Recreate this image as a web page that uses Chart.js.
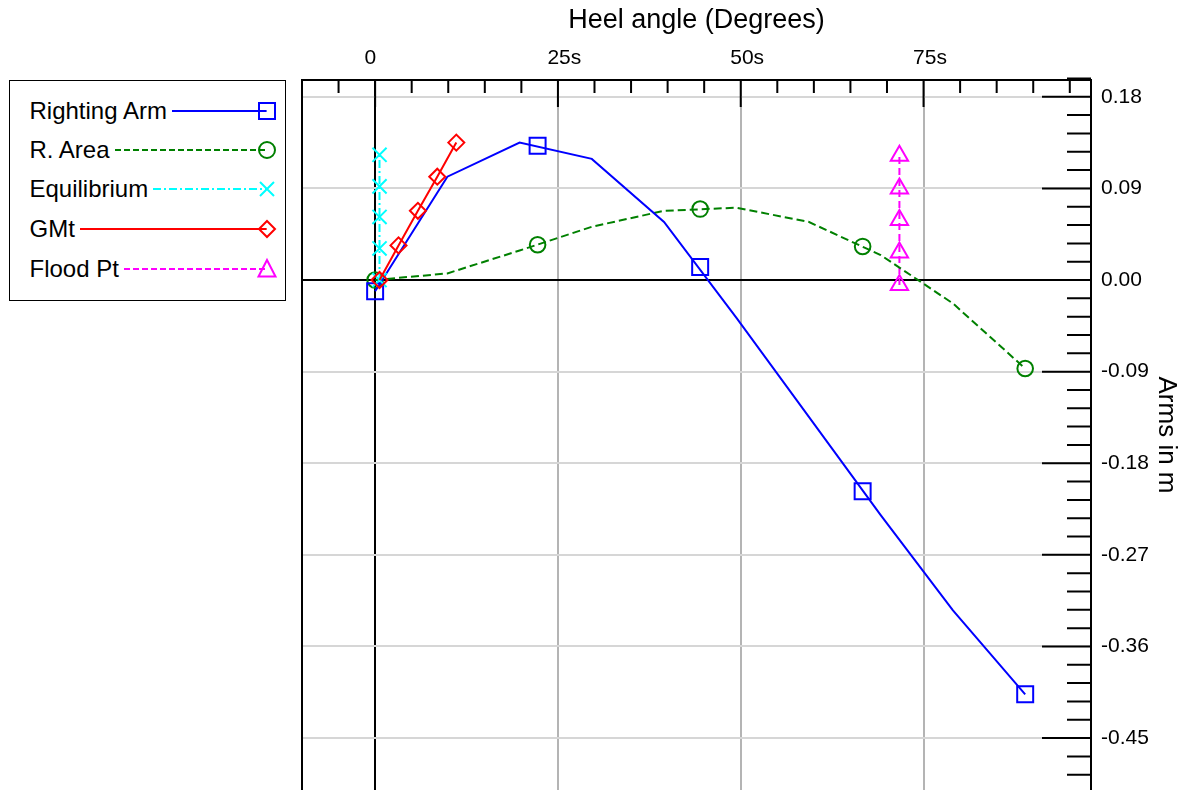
<!DOCTYPE html>
<html><head><meta charset="utf-8">
<script src="https://cdn.jsdelivr.net/npm/chart.js@4.4.1/dist/chart.umd.min.js"></script>
<style>
html,body{margin:0;padding:0;background:#fff;overflow:hidden;}
#wrap{position:relative;width:1189px;height:790px;}
#chart{position:absolute;left:0;top:0;}
#legend{position:absolute;left:9px;top:80px;width:275px;height:219px;border:1.5px solid #000;background:#fff;}
.row{position:absolute;left:19.5px;width:247px;height:26px;display:flex;align-items:center;font:24px "Liberation Sans",Arial,sans-serif;color:#000;}
.row span{white-space:nowrap;}
.row svg.ln{flex:1;height:26px;}
.row svg.mk{width:20px;height:26px;margin-left:-10px;flex:none;overflow:visible;}
</style></head>
<body>
<div id="wrap">
<canvas id="chart" width="1189" height="790"></canvas>
<div id="legend">
 <div class="row" style="top:17px"><span>Righting Arm</span><svg class="ln"><line x1="5" x2="100%" y1="13" y2="13" stroke="#0000ff" stroke-width="2"/></svg><svg class="mk"><rect x="2" y="5" width="16" height="16" fill="none" stroke="#0000ff" stroke-width="2"/></svg></div>
 <div class="row" style="top:55.5px"><span>R. Area</span><svg class="ln"><line x1="5" x2="100%" y1="13" y2="13" stroke="#008000" stroke-width="2" stroke-dasharray="6,3"/></svg><svg class="mk"><circle cx="10" cy="13" r="8" fill="none" stroke="#008000" stroke-width="2"/></svg></div>
 <div class="row" style="top:95px"><span>Equilibrium</span><svg class="ln"><line x1="5" x2="100%" y1="13" y2="13" stroke="#00ffff" stroke-width="2" stroke-dasharray="8,3,2,3"/></svg><svg class="mk"><path d="M3 6 L17 20 M17 6 L3 20" stroke="#00ffff" stroke-width="2"/></svg></div>
 <div class="row" style="top:135px"><span>GMt</span><svg class="ln"><line x1="5" x2="100%" y1="13" y2="13" stroke="#ff0000" stroke-width="2"/></svg><svg class="mk"><polygon points="10,5 18,13 10,21 2,13" fill="none" stroke="#ff0000" stroke-width="2"/></svg></div>
 <div class="row" style="top:174.5px"><span>Flood Pt</span><svg class="ln"><line x1="5" x2="100%" y1="13" y2="13" stroke="#ff00ff" stroke-width="2" stroke-dasharray="6,3"/></svg><svg class="mk"><polygon points="10,4 18.5,20.5 1.5,20.5" fill="none" stroke="#ff00ff" stroke-width="2"/></svg></div>
</div>
</div>
<script>
// ---- data ----
const heelAngles  = [0, 9.88, 19.76, 29.63, 39.51, 49.39, 59.27, 69.14, 79.02, 88.9];
const rightingArm = [-0.011, 0.1015, 0.135, 0.119, 0.057, -0.037, -0.134, -0.231, -0.3245, -0.407];
const rArea       = [0, 0.0065, 0.029, 0.0523, 0.068, 0.071, 0.0572, 0.0245, -0.023, -0.0869];
const markerAngles     = [0, 22.22, 44.45, 66.67, 88.9];
const rightingArmMarks = [-0.011, 0.132, 0.0127, -0.2074, -0.407];
const rAreaMarks       = [0, 0.0346, 0.0697, 0.0330, -0.0869];
const equilibriumAngle  = 0.6;
const equilibriumValues = [0, 0.031, 0.062, 0.092, 0.123];
const gmtAngles = [0.6, 3.2, 5.85, 8.5, 11.1];
const gmtValues = [0, 0.034, 0.068, 0.1015, 0.135];
const floodAngle  = 71.7;
const floodValues = [-0.005, 0.027, 0.059, 0.090, 0.122];
const xTickValues = [0, 25, 50, 75];
const xTickLabels = ['0', '25s', '50s', '75s'];
const yTickValues = [0.18, 0.09, 0, -0.09, -0.18, -0.27, -0.36, -0.45];
const yTickLabels = ['0.18', '0.09', '0.00', '-0.09', '-0.18', '-0.27', '-0.36', '-0.45'];

const pts = (xs, ys) => ys.map((v, i) => ({x: Array.isArray(xs) ? xs[i] : xs, y: v}));
const FONT = '"Liberation Sans", Arial, sans-serif';
Chart.defaults.font.family = FONT;
Chart.defaults.color = '#000';

const axisDecor = {
  id: 'axisDecor',
  beforeDatasetsDraw(chart) {
    const {ctx, chartArea: a, scales: {x, y}} = chart;
    ctx.save();
    ctx.strokeStyle = '#000';
    ctx.lineWidth = 2;
    ctx.beginPath();
    ctx.moveTo(a.left, a.top - 1); ctx.lineTo(a.left, a.bottom);
    for (let k = -1; k <= 19; k++) {
      const v = k * 5, px = x.getPixelForValue(v);
      if (px <= a.left + 1 || px >= a.right - 1) continue;
      const len = v % 25 === 0 ? 27 : 13;
      ctx.moveTo(px, a.top); ctx.lineTo(px, a.top + len);
    }
    for (let k = -28; k <= 11; k++) {
      const v = k * 0.018, py = y.getPixelForValue(v);
      if (py > a.bottom) continue;
      const len = k % 5 === 0 ? 49 : 24;
      ctx.moveTo(a.right - len, py); ctx.lineTo(a.right, py);
    }
    ctx.stroke();
    ctx.restore();
  }
};

const noFill = 'rgba(0,0,0,0)';
new Chart(document.getElementById('chart'), {
  type: 'scatter',
  data: {
    datasets: [
      {label: 'GMt', data: pts(gmtAngles, gmtValues), showLine: true, borderColor: '#ff0000', borderWidth: 2,
       pointStyle: 'rectRot', pointRadius: 8, pointBorderColor: '#ff0000', pointBackgroundColor: noFill, pointBorderWidth: 2},
      {label: 'Equilibrium', data: pts(equilibriumAngle, equilibriumValues), showLine: true, borderColor: '#00ffff', borderWidth: 2, borderDash: [8,3,2,3],
       pointStyle: 'crossRot', pointRadius: 10, pointBorderColor: '#00ffff', pointBackgroundColor: noFill, pointBorderWidth: 2},
      {label: 'Righting Arm', data: pts(heelAngles, rightingArm), showLine: true, borderColor: '#0000ff', borderWidth: 2, pointRadius: 0},
      {label: 'Righting Arm marks', data: pts(markerAngles, rightingArmMarks), showLine: false,
       pointStyle: 'rect', pointRadius: 11.3, pointBorderColor: '#0000ff', pointBackgroundColor: noFill, pointBorderWidth: 2},
      {label: 'R. Area', data: pts(heelAngles, rArea), showLine: true, borderColor: '#008000', borderWidth: 2, borderDash: [8,4], pointRadius: 0},
      {label: 'R. Area marks', data: pts(markerAngles, rAreaMarks), showLine: false,
       pointStyle: 'circle', pointRadius: 7.8, pointBorderColor: '#008000', pointBackgroundColor: noFill, pointBorderWidth: 2},
      {label: 'Flood Pt', data: pts(floodAngle, floodValues), showLine: true, borderColor: '#ff00ff', borderWidth: 2, borderDash: [7,4],
       pointStyle: 'triangle', pointRadius: 10, pointBorderColor: '#ff00ff', pointBackgroundColor: noFill, pointBorderWidth: 2}
    ]
  },
  options: {
    responsive: false,
    animation: false,
    devicePixelRatio: 1,
    events: [],
    layout: {autoPadding: false, padding: {left: 302, top: 0, right: 0, bottom: 0}},
    plugins: {legend: {display: false}, tooltip: {enabled: false}},
    scales: {
      x: {
        type: 'linear', position: 'top', min: -10, max: 97.9, bounds: 'data',
        afterBuildTicks: s => { s.ticks = xTickValues.map(v => ({value: v})); },
        afterFit: s => { s.height = 80; s.paddingLeft = 0; s.paddingRight = 0; },
        ticks: {autoSkip: false, maxRotation: 0, padding: 9, font: {size: 21}, color: '#000',
                align: 'start', labelOffset: -10.5,
                callback: (v, i) => xTickLabels[i]},
        grid: {drawTicks: false, lineWidth: 2,
               color: c => (c.tick && c.tick.value === 0) ? '#000' : '#b4b4b4'},
        border: {display: true, color: '#000', width: 2},
        title: {display: true, text: 'Heel angle (Degrees)', font: {size: 27}, color: '#000', padding: {top: 4, bottom: 0}}
      },
      y: {
        type: 'linear', position: 'right', min: -0.501, max: 0.1965, bounds: 'data',
        afterBuildTicks: s => { s.ticks = yTickValues.map(v => ({value: v})); },
        afterFit: s => { s.width = 98; s.paddingTop = 0; s.paddingBottom = 0; },
        ticks: {autoSkip: false, padding: 10, font: {size: 21}, color: '#000',
                callback: (v, i) => yTickLabels[i]},
        grid: {drawTicks: false, lineWidth: 2,
               color: c => (c.tick && c.tick.value === 0) ? '#000' : '#d6d6d6'},
        border: {display: true, color: '#000', width: 2},
        title: {display: true, text: 'Arms in m', font: {size: 26}, color: '#000', padding: {top: 7.5, bottom: 0}}
      }
    }
  },
  plugins: [axisDecor]
});
</script>
</body></html>
